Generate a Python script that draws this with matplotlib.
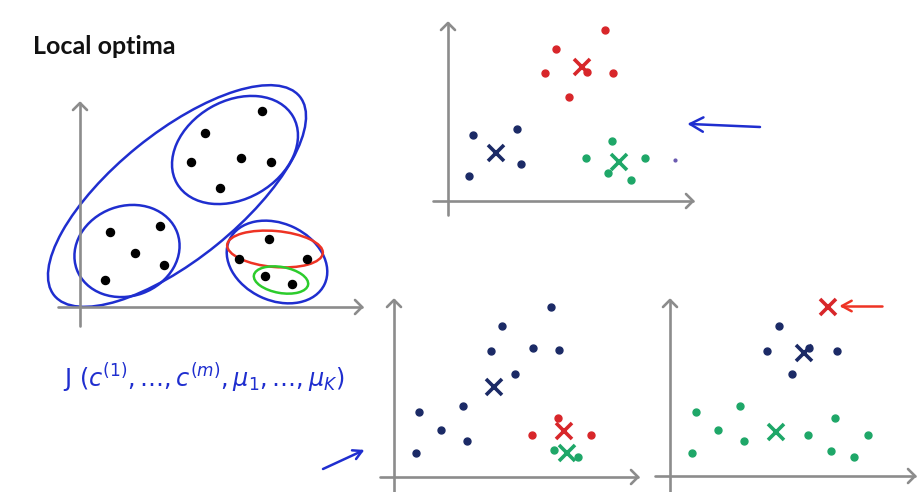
import matplotlib
matplotlib.use("Agg")
import matplotlib.pyplot as plt
from matplotlib.patches import Ellipse
import numpy as np

# ---------------- data (pixel coordinates of the slide) ----------------
title = "Local optima"

# panel 1: unlabeled data
p1_x = [262, 205, 191, 241, 271, 220, 110, 160, 135, 164, 105, 269, 239, 307, 265, 292]
p1_y = [111, 133, 162, 158, 162, 188, 232, 226, 253, 265, 280, 239, 259, 259, 276, 284]

# panel 2: good clustering
p2_red_x = [605, 556, 545, 587, 613, 569]
p2_red_y = [30, 49, 73, 72, 73, 97]
p2_navy_x = [473, 517, 521, 469]
p2_navy_y = [135, 129, 164, 176]
p2_green_x = [612, 586, 645, 608, 631]
p2_green_y = [141, 158, 158, 173, 180]
p2_cent_x = [582, 496, 619]
p2_cent_y = [67, 153, 162]

# panel 3: local optimum 1
p3_navy_x = [551, 502, 491, 533, 559, 515, 463, 419, 441, 467, 416]
p3_navy_y = [307, 326, 351, 348, 350, 374, 406, 412, 430, 441, 453]
p3_red_x = [558, 532, 591]
p3_red_y = [418, 435, 435]
p3_green_x = [554, 578]
p3_green_y = [450, 457]
p3_cent_x = [494, 564, 567]
p3_cent_y = [387, 431, 453]

# panel 4: local optimum 2
p4_navy_x = [779, 767, 809, 837, 792]
p4_navy_y = [326, 351, 348, 351, 374]
p4_green_x = [696, 740, 718, 744, 692, 808, 835, 831, 854, 868]
p4_green_y = [412, 406, 430, 441, 453, 435, 418, 451, 457, 435]
p4_cent_x = [828, 804, 776]
p4_cent_y = [307, 353, 432]

formula = r"$\mathrm{J}\ (c^{(1)},\ldots,c^{(m)},\mu_1,\ldots,\mu_K)$"

# ---------------- style ----------------
GRAY = "#8c8c8c"
PEN = "#1f2ecf"
NAVY = "#1b2a66"
RED = "#d8262a"
GREEN = "#1ea768"
PEN_RED = "#ee3324"
PEN_GREEN = "#2ccc2c"

fig = plt.figure(figsize=(9.23, 4.92), dpi=100)
ax = fig.add_axes([0, 0, 1, 1])
ax.set_xlim(0, 923)
ax.set_ylim(492, 0)
ax.axis("off")


def draw_axes(x0, ytop, ybot, y0, xleft, xright):
    ax.plot([x0, x0], [ybot, ytop], color=GRAY, lw=1.9, solid_capstyle="round")
    ax.plot([xleft, xright], [y0, y0], color=GRAY, lw=1.9, solid_capstyle="round")
    h = 7
    ax.plot([x0 - h, x0, x0 + h], [ytop + h, ytop, ytop + h], color=GRAY, lw=1.9,
            solid_capstyle="round", solid_joinstyle="round")
    ax.plot([xright - h, xright, xright - h], [y0 - h, y0, y0 + h], color=GRAY, lw=1.9,
            solid_capstyle="round", solid_joinstyle="round")


draw_axes(80, 103, 326, 307, 58, 362)
draw_axes(448, 23, 215, 201, 433, 693)
draw_axes(394, 300, 495, 477, 380, 638)
draw_axes(670, 300, 495, 476, 655, 915)

# title
ax.text(33, 54, title, fontsize=18, fontweight="bold", family="Lato",
        color="#111111", ha="left", va="baseline")

# panel 1 ellipses
ells = [
    ((177, 196), 316, 126, -39, PEN),
    ((235, 150), 134, 98, -30, PEN),
    ((127, 251), 107, 90, -20, PEN),
    ((277, 262), 105, 77, 25, PEN),
    ((275, 249), 96, 36, 5, PEN_RED),
    ((281, 280), 55, 26, 10, PEN_GREEN),
]
for c, w, hgt, ang, col in ells:
    ax.add_patch(Ellipse(c, w, hgt, angle=ang, fill=False, ec=col, lw=1.8))

ax.plot(p1_x, p1_y, "o", color="black", ms=5.8, ls="none")

# cluster points
dot = dict(marker="o", ms=5, ls="none")
ax.plot(p2_red_x, p2_red_y, color=RED, **dot)
ax.plot(p2_navy_x, p2_navy_y, color=NAVY, **dot)
ax.plot(p2_green_x, p2_green_y, color=GREEN, **dot)
ax.plot(p3_navy_x, p3_navy_y, color=NAVY, **dot)
ax.plot(p3_red_x, p3_red_y, color=RED, **dot)
ax.plot(p3_green_x, p3_green_y, color=GREEN, **dot)
ax.plot(p4_navy_x, p4_navy_y, color=NAVY, **dot)
ax.plot(p4_green_x, p4_green_y, color=GREEN, **dot)
ax.plot([675], [160], marker="o", ms=2, color="#6a5ab0", ls="none")

cent_cols2 = [RED, NAVY, GREEN]
cent_cols3 = [NAVY, RED, GREEN]
cent_cols4 = [RED, NAVY, GREEN]
for xs, ys, cols in [(p2_cent_x, p2_cent_y, cent_cols2),
                     (p3_cent_x, p3_cent_y, cent_cols3),
                     (p4_cent_x, p4_cent_y, cent_cols4)]:
    for x, y, col in zip(xs, ys, cols):
        ax.plot([x], [y], marker="x", ms=11, mew=2.6, color=col, ls="none")


# hand-drawn arrows
def pen_arrow(x1, y1, x2, y2, col, h=9):
    ax.plot([x1, x2], [y1, y2], color=col, lw=1.8, solid_capstyle="round")
    d = np.array([x1 - x2, y1 - y2], float)
    d /= np.hypot(*d)
    for a in (0.5, -0.5):
        r = np.array([[np.cos(a), -np.sin(a)], [np.sin(a), np.cos(a)]]) @ d
        ax.plot([x2, x2 + h * r[0]], [y2, y2 + h * r[1]], color=col, lw=1.8,
                solid_capstyle="round")


pen_arrow(760, 127, 690, 124, PEN, h=15)
pen_arrow(882, 306, 842, 306, PEN_RED, h=11)
pen_arrow(323, 469, 362, 451, PEN, h=10)

# formula
ax.text(63, 387, formula, fontsize=17.3, color=PEN, ha="left", va="baseline")

fig.savefig("out.png", dpi=100)
